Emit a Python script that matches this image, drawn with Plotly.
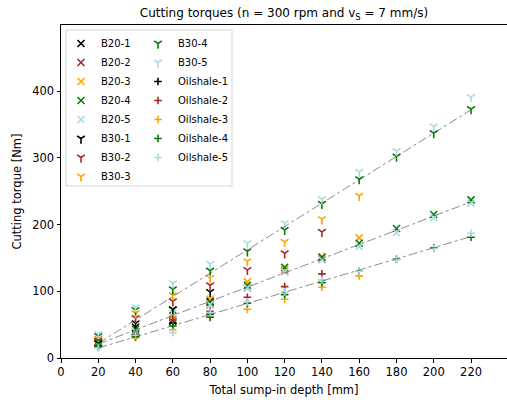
import plotly.graph_objects as go

# ---- data ----
depth_1 = [20, 40, 60, 80]
depth_2 = [20, 40, 60, 80, 100, 120, 140]
depth_3 = [20, 40, 60, 80, 100, 120, 140, 160]
depth_45 = [20, 40, 60, 80, 100, 120, 140, 160, 180, 200, 220]

b20_1 = [25, 46, 55, 85]
b20_2 = [22, 39, 58, 80, 105, 130, 148]
b20_3 = [24, 35, 62, 88, 114, 133, 152, 180]
b20_4 = [23, 43, 72, 83, 109, 136, 151, 172, 194, 215, 237]
b20_5 = [20, 40, 67, 80, 105, 129, 147, 167, 188, 210, 232]

b30_1 = [22, 52, 73, 99]
b30_2 = [26, 60, 85, 109, 132, 157, 189]
b30_3 = [29, 67, 94, 120, 145, 174, 208, 243]
b30_4 = [33, 72, 103, 131, 160, 192, 231, 268, 302, 337, 373]
b30_5 = [36, 76, 112, 141, 172, 202, 238, 279, 310, 347, 391]

oil_1 = [18, 35, 52, 66]
oil_2 = [17, 33, 57, 70, 91, 107, 126]
oil_3 = [16, 30, 42, 62, 73, 88, 106, 123]
oil_4 = [17, 32, 48, 61, 82, 95, 113, 130, 148, 165, 181]
oil_5 = [15, 34, 38, 68, 84, 99, 117, 130, 147, 164, 187]

fit_x = [20, 220]
fit_b30 = [22, 372]
fit_b20 = [21, 234]
fit_oil = [15, 182]

colors = ["black", "#a52a2a", "#ffa500", "#008000", "#add8e6"]

series = [
    ("B20-1", depth_1, b20_1, "x-thin", 0),
    ("B20-2", depth_2, b20_2, "x-thin", 1),
    ("B20-3", depth_3, b20_3, "x-thin", 2),
    ("B20-4", depth_45, b20_4, "x-thin", 3),
    ("B20-5", depth_45, b20_5, "x-thin", 4),
    ("B30-1", depth_1, b30_1, "y-down", 0),
    ("B30-2", depth_2, b30_2, "y-down", 1),
    ("B30-3", depth_3, b30_3, "y-down", 2),
    ("B30-4", depth_45, b30_4, "y-down", 3),
    ("B30-5", depth_45, b30_5, "y-down", 4),
    ("Oilshale-1", depth_1, oil_1, "cross-thin", 0),
    ("Oilshale-2", depth_2, oil_2, "cross-thin", 1),
    ("Oilshale-3", depth_3, oil_3, "cross-thin", 2),
    ("Oilshale-4", depth_45, oil_4, "cross-thin", 3),
    ("Oilshale-5", depth_45, oil_5, "cross-thin", 4),
]

sizes = {"x-thin": 7, "y-down": 6.5, "cross-thin": 5.5}

fig = go.Figure()
for i, (name, xs, ys, sym, ci) in enumerate(series):
    fig.add_trace(go.Scatter(
        x=xs, y=ys, mode="markers", name=name,
        legend="legend" if i < 8 else "legend2",
        marker=dict(symbol=sym, size=sizes[sym], color=colors[ci],
                    line=dict(width=1.6, color=colors[ci])),
    ))

for fy in (fit_b30, fit_b20, fit_oil):
    fig.add_trace(go.Scatter(
        x=fit_x, y=fy, mode="lines", showlegend=False, hoverinfo="skip",
        line=dict(color="rgba(60,60,60,0.75)", width=0.8, dash="dashdot"),
    ))

font = "DejaVu Sans"
W, H = 507, 400
L, R, T, B = 61, 0, 25, 42
pw, ph = W - L - R, H - T - B


def px_x(p):
    return (p - L) / pw


def px_y(p):
    return (H - B - p) / ph


fig.update_layout(
    width=W, height=H,
    margin=dict(l=L, r=R, t=T, b=B, autoexpand=False),
    plot_bgcolor="white", paper_bgcolor="white",
    font=dict(family=font, size=11.5, color="black"),
    title=dict(text="Cutting torques (n = 300 rpm and v<sub>S</sub> = 7 mm/s)",
               x=0.5, xref="paper", xanchor="center",
               y=1 - 13 / H, yref="container", yanchor="middle",
               font=dict(family=font, size=12, color="black")),
    xaxis=dict(range=[0, 239.3], tickmode="array", tickvals=list(range(0, 221, 20)),
               showline=True, linecolor="black", linewidth=1, mirror=True,
               ticks="outside", ticklen=3.5, tickcolor="black", showgrid=False,
               zeroline=False, automargin=False,
               title=dict(text="Total sump-in depth [mm]", standoff=7,
                          font=dict(family=font, size=11.5))),
    yaxis=dict(range=[0, 499], tickmode="array", tickvals=[0, 100, 200, 300, 400],
               showline=True, linecolor="black", linewidth=1, mirror=True,
               ticks="outside", ticklen=3.5, tickcolor="black", showgrid=False,
               zeroline=False, automargin=False,
               title=dict(text="Cutting torque [Nm]", standoff=8,
                          font=dict(family=font, size=11.5))),
    legend=dict(x=px_x(61), y=px_y(29), xanchor="left", yanchor="top",
                bgcolor="rgba(0,0,0,0)", borderwidth=0,
                font=dict(family=font, size=10), tracegroupgap=0),
    legend2=dict(x=px_x(138), y=px_y(29), xanchor="left", yanchor="top",
                 bgcolor="rgba(0,0,0,0)", borderwidth=0,
                 font=dict(family=font, size=10), tracegroupgap=0),
    shapes=[dict(type="rect", xref="paper", yref="paper",
                 x0=px_x(66), x1=px_x(232), y0=px_y(186), y1=px_y(30),
                 line=dict(color="#d5d5d5", width=1),
                 fillcolor="rgba(255,255,255,0.8)", layer="above")],
)

fig.write_html("out.html", config={"displayModeBar": False},
               post_script="document.body.style.margin='0';document.body.style.padding='0';")
